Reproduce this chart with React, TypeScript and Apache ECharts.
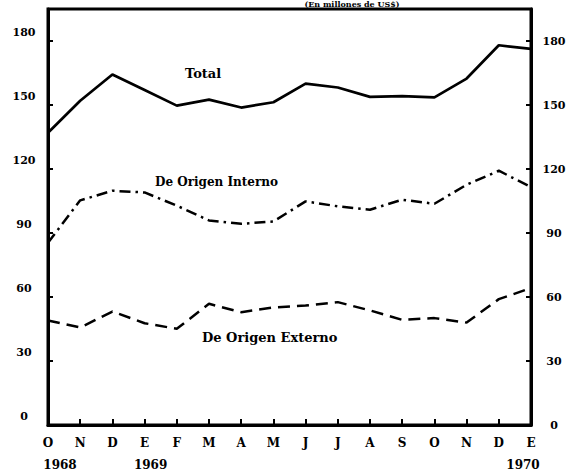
import React, { useEffect, useRef } from "react";
import * as echarts from "echarts";

const months = ["O", "N", "D", "E", "F", "M", "A", "M", "J", "J", "A", "S", "O", "N", "D", "E"];
const yearAt: Record<number, string> = { 0: "1968", 3: "1969", 15: "1970" };
const totalValues = [137, 152, 164.3, 157, 149.7, 152.5, 148.8, 151.3, 160, 158.2, 153.8, 154.2, 153.6, 162.4, 178, 176.3];
const internoValues = [85.4, 105.3, 109.8, 109, 102.8, 95.9, 94.3, 95.4, 104.8, 102.5, 100.9, 105.6, 103.7, 112.6, 119.2, 111.5];
const externoValues = [49, 45.7, 53.2, 47.7, 45.1, 56.8, 52.9, 55.1, 56, 57.6, 53.7, 49.3, 50.1, 48, 59, 64.2];
const yTicks = [0, 30, 60, 90, 120, 150, 180];

const FONT = "'DejaVu Serif', 'Liberation Serif', serif";

export default function App() {
  const ref = useRef<HTMLDivElement>(null);
  useEffect(() => {
    if (!ref.current) return;
    const chart = echarts.init(ref.current, null, { renderer: "svg" });
    const tickLabel = (v: number) => (yTicks.includes(v) ? String(v) : "");
    const yBase = {
      type: "value" as const,
      min: 0,
      max: 195,
      interval: 30,
      splitLine: { show: false },
      axisLine: { show: true, lineStyle: { color: "#000", width: 3 } },
      axisTick: { show: true, inside: true, length: 5, lineStyle: { color: "#000", width: 2 } },
    };
    chart.setOption({
      animation: false,
      backgroundColor: "#fff",
      grid: { left: 48, right: 44, top: 9, bottom: 48, show: true, borderColor: "#000", borderWidth: 3 },
      xAxis: {
        type: "category",
        data: months,
        boundaryGap: false,
        axisLine: { lineStyle: { color: "#000", width: 3 } },
        axisTick: { inside: true, length: 6, interval: 0, lineStyle: { color: "#000", width: 2 } },
        splitLine: { show: false },
        axisLabel: {
          interval: 0,
          margin: 7,
          formatter: (value: string, index: number) => {
            const y = yearAt[index];
            return y ? `{m|${value}}\n{y${y}|${y}}` : `{m|${value}}`;
          },
          rich: {
            m: { fontFamily: FONT, fontWeight: "bold", fontSize: 12, color: "#000", lineHeight: 22 },
            y1968: { fontFamily: FONT, fontWeight: "bold", fontSize: 12, color: "#000", lineHeight: 22, padding: [0, 0, 0, 24] },
            y1969: { fontFamily: FONT, fontWeight: "bold", fontSize: 12, color: "#000", lineHeight: 22, padding: [0, 0, 0, 12] },
            y1970: { fontFamily: FONT, fontWeight: "bold", fontSize: 12, color: "#000", lineHeight: 22, padding: [0, 16, 0, 0] },
          },
        },
      },
      yAxis: [
        {
          ...yBase,
          position: "left",
          axisLabel: {
            margin: 24,
            align: "center",
            verticalAlign: "bottom",
            lineHeight: 18,
            formatter: tickLabel,
            fontFamily: FONT,
            fontWeight: "bold",
            fontSize: 11,
            color: "#000",
          },
        },
        {
          ...yBase,
          position: "right",
          axisLabel: {
            margin: 23,
            align: "center",
            formatter: tickLabel,
            fontFamily: FONT,
            fontWeight: "bold",
            fontSize: 11,
            color: "#000",
          },
        },
      ],
      series: [
        {
          name: "Total",
          type: "line",
          data: totalValues,
          symbol: "none",
          lineStyle: { color: "#000", width: 2.7, type: "solid" },
        },
        {
          name: "De Origen Interno",
          type: "line",
          data: internoValues,
          symbol: "none",
          lineStyle: { color: "#000", width: 2.5, type: [11, 5, 2.5, 5] },
        },
        {
          name: "De Origen Externo",
          type: "line",
          data: externoValues,
          symbol: "none",
          lineStyle: { color: "#000", width: 2.5, type: [12, 7] },
        },
      ],
      graphic: [
        {
          type: "text",
          x: 352,
          y: 0,
          style: { text: "(En millones de US$)", font: `bold 8px ${FONT}`, fill: "#000", align: "center", verticalAlign: "top" },
        },
        {
          type: "text",
          x: 185,
          y: 67,
          style: { text: "Total", font: `bold 13px ${FONT}`, fill: "#000" },
        },
        {
          type: "text",
          x: 155,
          y: 176,
          style: { text: "De Origen Interno", font: `bold 12px ${FONT}`, fill: "#000" },
        },
        {
          type: "text",
          x: 202,
          y: 331,
          style: { text: "De Origen Externo", font: `bold 13px ${FONT}`, fill: "#000" },
        },
      ],
    });
    return () => chart.dispose();
  }, []);
  return <div ref={ref} style={{ width: 575, height: 473, position: "absolute", left: 0, top: 0 }} />;
}
